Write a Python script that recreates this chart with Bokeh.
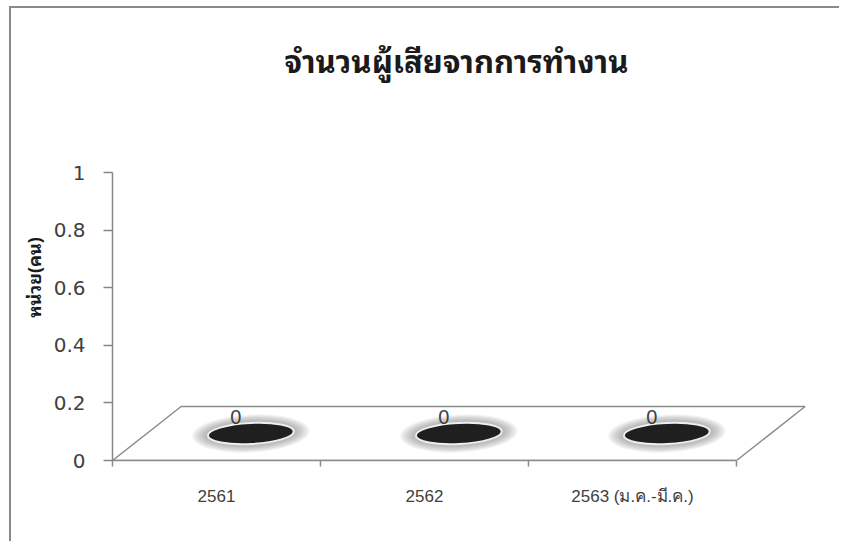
from bokeh.plotting import figure
from bokeh.models import Range1d, FixedTicker, ColumnDataSource, NumeralTickFormatter, LinearAxis
from bokeh.embed import file_html
from bokeh.resources import INLINE
from bokeh.core.properties import value

# ---- data ----
categories = ["2561", "2562", "2563 (ม.ค.-มี.ค.)"]
deaths = [0, 0, 0]
y_ticks = [0, 0.2, 0.4, 0.6, 0.8, 1]
title_text = "จำนวนผู้เสียจากการทำงาน"
y_label = "หน่วย(คน)"

# ---- pseudo 3D floor depth (in data units) ----
n = len(categories)
depth_dx = 0.33
depth_dy = 0.1875

W, H = 830, 535
left_border, bottom_border, top_border = 101, 83, 86
px_x = 208.0
px_y = 288.0

THAI = "Noto Sans Thai Looped, Noto Serif Thai, Tahoma, Noto Sans Thai, sans-serif"

p = figure(width=W, height=H, output_backend="svg", toolbar_location=None,
           x_range=Range1d(0, (W - left_border) / px_x),
           y_range=Range1d(0, (H - bottom_border - top_border) / px_y),
           min_border_left=left_border, min_border_right=0,
           min_border_top=top_border, min_border_bottom=bottom_border,
           title=title_text)
p.styles = {"border-left": "2px solid #8a8a8a", "border-top": "2px solid #8a8a8a",
            "margin-left": "9px", "margin-top": "6px"}
p.outline_line_color = None
p.xgrid.grid_line_color = None
p.ygrid.grid_line_color = None
p.background_fill_color = "white"
p.border_fill_color = "white"

p.title.align = "left"
p.title.offset = 172
p.title.text_font = THAI
p.title.text_font_style = "bold"
p.title.text_font_size = "31px"
p.title.text_color = "#1a1a1a"
p.title.standoff = 22

# y axis
ya = p.yaxis[0]
ya.ticker = FixedTicker(ticks=y_ticks, minor_ticks=[])
ya.formatter = NumeralTickFormatter(format="0.[0]")
ya.bounds = (0, 1)
ya.axis_line_color = "#868686"
ya.axis_line_width = 1.5
ya.major_tick_line_color = "#868686"
ya.major_tick_line_width = 1.5
ya.major_tick_in = 0
ya.major_tick_out = 9
ya.minor_tick_line_color = None
ya.major_label_standoff = 18
ya.major_label_text_font = "DejaVu Sans"
ya.major_label_text_font_size = "20px"
ya.major_label_text_color = "#404040"

# second (label-only) left axis for the unit caption
la = LinearAxis(axis_label=y_label,
                ticker=FixedTicker(ticks=[]), axis_line_color=None,
                major_tick_line_color=None, minor_tick_line_color=None,
                major_label_text_font_size="0px", axis_label_standoff=4,
                axis_label_text_font=THAI, axis_label_text_font_style="bold",
                axis_label_text_font_size="18px", axis_label_text_color="#1a1a1a")
p.add_layout(la, "left")

# x axis
centers = [i + 0.5 for i in range(n)]
xa = p.xaxis[0]
xa.ticker = FixedTicker(ticks=centers, minor_ticks=list(range(n + 1)))
xa.major_label_overrides = {c: lab for c, lab in zip(centers, categories)}
xa.bounds = (0, n)
xa.axis_line_color = "#8c8c8c"
xa.axis_line_width = 1.5
xa.major_tick_line_color = None
xa.major_tick_in = 0
xa.major_tick_out = 0
xa.minor_tick_line_color = "#8c8c8c"
xa.minor_tick_line_width = 1.5
xa.minor_tick_in = 0
xa.minor_tick_out = 6
xa.major_label_standoff = 20
xa.major_label_text_font = "Liberation Sans"
xa.major_label_text_font_size = "17px"
xa.major_label_text_color = "#404040"

# floor
p.patch([0, n, n + depth_dx, depth_dx], [0, 0, depth_dy, depth_dy],
        fill_color=None, line_color="#8c8c8c", line_width=1.5)

# zero-height cylinders (top faces)
ex = [c + depth_dx / 2 for c in centers]
ey = [v + depth_dy / 2 for v in deaths]
src = ColumnDataSource(dict(x=ex, y=ey, lab=[str(v) for v in deaths]))
ang = 0.05
for k in range(10):
    w = 118 - k * 3
    h = 38 - k * 1.5
    p.ellipse("x", "y", width=w, height=h, width_units="screen", height_units="screen",
              angle=ang, source=src, fill_color="#7a7a7a", fill_alpha=0.07,
              line_color=None)
p.ellipse("x", "y", width=86, height=21, width_units="screen", height_units="screen",
          angle=ang, source=src, fill_color="#1f1f1f", line_color="#eeeeee", line_width=2)

p.text("x", "y", text="lab", source=src, x_offset=-15, y_offset=-17,
       text_font=value("Liberation Sans"), text_font_size="20px",
       text_color="#404040", text_align="center", text_baseline="alphabetic")

open("out.html", "w").write(file_html(p, INLINE))
